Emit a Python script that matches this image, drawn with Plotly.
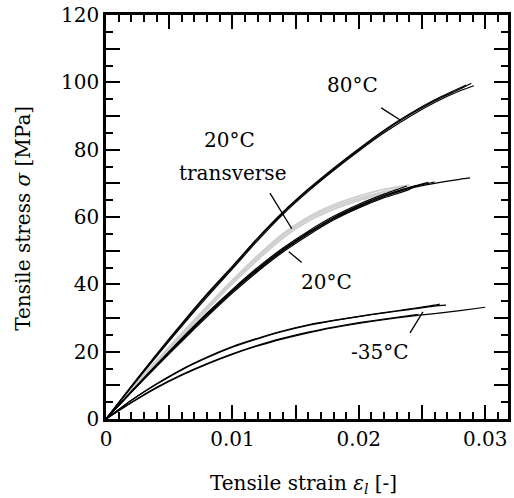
import plotly.graph_objects as go

# Shared strain grid (step 0.002)
STRAIN = [0.000, 0.002, 0.004, 0.006, 0.008, 0.010, 0.012, 0.014,
          0.016, 0.018, 0.020, 0.022, 0.024, 0.026, 0.028, 0.030]

# 80 °C specimens (stress values on the grid, then last point)
T80_A = [0, 9.6, 19.0, 28.0, 36.8, 45.0, 53.5, 61.2, 68.0, 74.2, 80.0, 85.5, 90.3, 94.5, 98.0]
T80_A_END = (0.0289, 99.7)
T80_B = [0, 9.4, 18.6, 27.6, 36.3, 44.6, 53.0, 60.8, 67.6, 73.8, 79.6, 85.0, 89.8, 94.0, 97.5]
T80_B_END = (0.0291, 99.0)
T80_C = [0, 9.8, 19.3, 28.4, 37.2, 45.4, 53.8, 61.5, 68.3, 74.5, 80.3, 85.8, 90.6, 94.8]
T80_C_END = (0.0285, 99.2)

# 20 °C transverse specimens (grey)
TR_1 = [0, 8.6, 17.0, 25.0, 33.0, 40.8, 48.0, 54.5, 59.5, 63.0, 65.5, 67.5]
TR_1_END = (0.0236, 68.8)
TR_2 = [0, 8.4, 16.6, 24.6, 32.5, 40.2, 47.3, 53.8, 58.8, 62.3, 64.9, 67.0]
TR_2_END = (0.0232, 68.2)
TR_3 = [0, 8.8, 17.3, 25.4, 33.4, 41.2, 48.5, 55.0, 60.0, 63.6, 66.2, 68.2]
TR_3_END = (0.0240, 69.4)

# 20 °C specimens (black)
T20_1 = [0, 8.0, 15.8, 23.4, 30.8, 37.8, 44.2, 50.0, 55.0, 59.5, 63.0, 66.0, 68.5, 70.0, 71.2]
T20_1_END = (0.0288, 71.6)
T20_2 = [0, 8.1, 16.0, 23.7, 31.1, 38.1, 44.6, 50.4, 55.4, 59.8, 63.4, 66.4, 68.8]
T20_2_END = (0.0255, 70.3)
T20_3 = [0, 7.9, 15.6, 23.1, 30.4, 37.4, 43.8, 49.6, 54.6, 59.1, 62.7, 65.7, 68.2]
T20_3_END = (0.0245, 69.4)
T20_4 = [0, 8.2, 16.2, 24.0, 31.5, 38.5, 45.0, 50.8, 55.8, 60.2, 63.8, 66.8]
T20_4_END = (0.0238, 69.2)
T20_5 = [0, 8.0, 15.9, 23.6, 31.0, 38.0, 44.4, 50.2, 55.2, 59.7, 63.3, 66.3, 68.7]
T20_5_END = (0.0260, 70.4)

# -35 °C specimens
TM35_1 = [0, 5.6, 10.5, 14.8, 18.4, 21.5, 24.0, 26.2, 28.0, 29.3, 30.5, 31.6, 32.7, 33.8]
TM35_1_END = (0.0264, 34.1)
TM35_2 = [0, 5.5, 10.3, 14.6, 18.2, 21.3, 23.8, 26.0, 27.8, 29.2, 30.4, 31.5, 32.5, 33.5]
TM35_2_END = (0.0269, 33.8)
TM35_3 = [0, 4.8, 9.2, 13.0, 16.3, 19.2, 21.7, 23.8, 25.6, 27.1, 28.4, 29.5, 30.5, 31.3, 32.2]
TM35_3_END = (0.0300, 33.2)
TM35_4 = [0, 4.9, 9.4, 13.2, 16.5, 19.4, 21.9, 24.0, 25.8, 27.3, 28.6, 29.7]
TM35_4_END = (0.0247, 31.1)

# Labels: (text, x, y)
LABELS = [("80°C", 0.0195, 99.1),
          ("20°C", 0.00975, 82.9),
          ("transverse", 0.00998, 73.2),
          ("20°C", 0.01745, 40.6),
          ("-35°C", 0.0217, 20.0)]
# Leader lines: (x0, y0, x1, y1)
LEADERS = [(0.02177, 92.4, 0.02327, 88.8),
           (0.01297, 67.1, 0.01470, 56.5),
           (0.01446, 49.7, 0.01548, 46.5),
           (0.02405, 25.6, 0.02507, 31.8)]

X_RANGE = [0, 0.0318]
Y_RANGE = [0, 120]
X_TICKS = [0, 0.005, 0.01, 0.015, 0.02, 0.025, 0.03]
X_TICKTEXT = ["0", " ", "0.01", " ", "0.02", " ", "0.03"]
X_MINOR = [0.001, 0.002, 0.003, 0.004, 0.006, 0.007, 0.008, 0.009,
           0.011, 0.012, 0.013, 0.014, 0.016, 0.017, 0.018, 0.019,
           0.021, 0.022, 0.023, 0.024, 0.026, 0.027, 0.028, 0.029, 0.031]
Y_TICKS = [0, 10, 20, 30, 40, 50, 60, 70, 80, 90, 100, 110, 120]
Y_TICKTEXT = ["0", " ", "20", " ", "40", " ", "60", " ", "80", " ", "100", " ", "120"]
Y_MINOR = [5, 15, 25, 35, 45, 55, 65, 75, 85, 95, 105, 115]
MAJOR_LEN, MINOR_LEN = 14, 7  # pixels

FONT = "DejaVu Serif"

fig = go.Figure()


def add_curve(vals, end, color, width):
    xs = STRAIN[:len(vals)] + [end[0]]
    ys = vals + [end[1]]
    fig.add_trace(go.Scatter(x=xs, y=ys, mode="lines",
                             line=dict(color=color, width=width, shape="spline", smoothing=0.6),
                             showlegend=False, hoverinfo="skip"))


for vals, end in [(TR_1, TR_1_END), (TR_2, TR_2_END), (TR_3, TR_3_END)]:
    add_curve(vals, end, "#cfcfcf", 2.0)
for vals, end in [(T20_1, T20_1_END), (T20_2, T20_2_END), (T20_3, T20_3_END),
                  (T20_4, T20_4_END), (T20_5, T20_5_END)]:
    add_curve(vals, end, "black", 1.2)
for vals, end in [(T80_A, T80_A_END), (T80_B, T80_B_END), (T80_C, T80_C_END)]:
    add_curve(vals, end, "black", 1.2)
for vals, end in [(TM35_1, TM35_1_END), (TM35_2, TM35_2_END),
                  (TM35_3, TM35_3_END), (TM35_4, TM35_4_END)]:
    add_curve(vals, end, "black", 1.2)

for x0, y0, x1, y1 in LEADERS:
    fig.add_shape(type="line", x0=x0, y0=y0, x1=x1, y1=y1, xref="x", yref="y",
                  line=dict(color="black", width=1.3))

for text, x, y in LABELS:
    fig.add_annotation(x=x, y=y, text=text, showarrow=False, xref="x", yref="y",
                       font=dict(family=FONT, size=20, color="black"))

label_font = dict(family=FONT, size=20, color="black")
tick_common = dict(ticks="inside", tickwidth=2, tickcolor="black", showgrid=False,
                   zeroline=False)

# main labelled axes (bottom / left, major ticks)
fig.update_layout(
    xaxis=dict(range=X_RANGE, tickmode="array", tickvals=X_TICKS, ticktext=X_TICKTEXT,
               ticklen=MAJOR_LEN, showline=True, mirror=True, linecolor="black",
               linewidth=2.5, tickfont=label_font, ticklabeloverflow="allow", **tick_common),
    yaxis=dict(range=Y_RANGE, tickmode="array", tickvals=Y_TICKS, ticktext=Y_TICKTEXT,
               ticklen=MAJOR_LEN, showline=True, mirror=True, linecolor="black",
               linewidth=2.5, tickfont=label_font, ticklabeloverflow="allow", **tick_common),
)

# extra unlabelled tick axes: (axis name, trace ref, side, tick values, tick length)
EXTRA_X = [("xaxis2", "x2", "top", X_TICKS, MAJOR_LEN),
           ("xaxis3", "x3", "top", X_MINOR, MINOR_LEN),
           ("xaxis4", "x4", "bottom", X_MINOR, MINOR_LEN)]
EXTRA_Y = [("yaxis2", "y2", "right", Y_TICKS, MAJOR_LEN),
           ("yaxis3", "y3", "right", Y_MINOR, MINOR_LEN),
           ("yaxis4", "y4", "left", Y_MINOR, MINOR_LEN)]

for name, ref, side, vals, ln in EXTRA_X:
    fig.update_layout({name: dict(range=X_RANGE, overlaying="x", anchor="y", side=side,
                                  tickmode="array", tickvals=vals, ticklen=ln,
                                  showticklabels=False, showline=False, **tick_common)})
    fig.add_trace(go.Scatter(x=[X_RANGE[0]], y=[Y_RANGE[0]], xaxis=ref, yaxis="y",
                             mode="lines", showlegend=False, hoverinfo="skip",
                             line=dict(width=0)))
for name, ref, side, vals, ln in EXTRA_Y:
    fig.update_layout({name: dict(range=Y_RANGE, overlaying="y", anchor="x", side=side,
                                  tickmode="array", tickvals=vals, ticklen=ln,
                                  showticklabels=False, showline=False, **tick_common)})
    fig.add_trace(go.Scatter(x=[X_RANGE[0]], y=[Y_RANGE[0]], xaxis="x", yaxis=ref,
                             mode="lines", showlegend=False, hoverinfo="skip",
                             line=dict(width=0)))

fig.add_annotation(text="Tensile strain <i>ε</i><sub><i>l</i></sub> [-]", xref="paper", yref="paper",
                   x=0.4925, y=-0.162, showarrow=False, xanchor="center", yanchor="middle",
                   font=dict(family=FONT, size=20, color="black"))
fig.add_annotation(text="Tensile stress <i>σ</i> [MPa]", xref="paper", yref="paper",
                   x=-0.207, y=0.4975, showarrow=False, xanchor="center", yanchor="middle",
                   textangle=-90, font=dict(family=FONT, size=20, color="black"))

fig.update_layout(width=514, height=498, margin=dict(l=106, r=3, t=11, b=79),
                  plot_bgcolor="white", paper_bgcolor="white")

fig.write_html("out.html")
